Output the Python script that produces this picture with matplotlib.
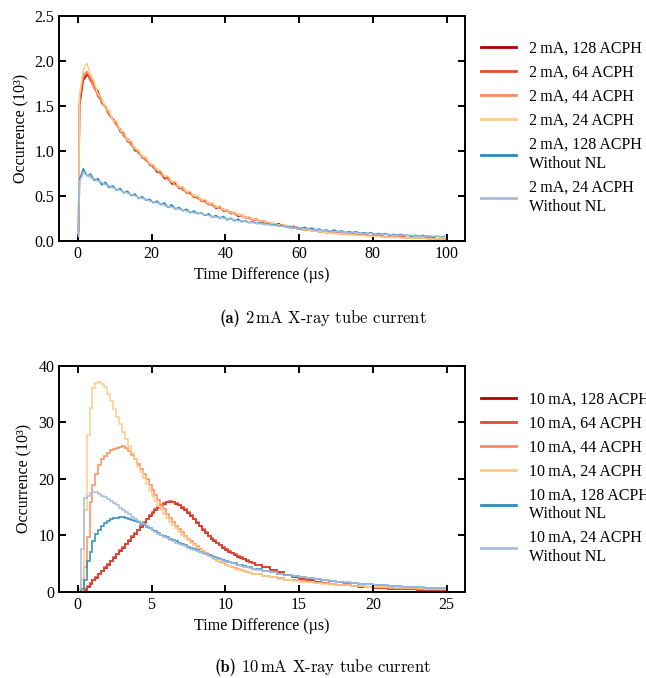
import numpy as np
import matplotlib
matplotlib.use('Agg')
import matplotlib.pyplot as plt

# ---- (a) 2 mA, 1 us bins (plotted at bin centres), values in 10^3 ----
time_a = np.concatenate([[0.2], np.arange(0.5, 100, 1.0)])

red_128_a = [0.10, 1.50, 1.78, 1.84, 1.82, 1.70, 1.66, 1.53, 1.49, 1.40, 1.35,
             1.31, 1.21, 1.20, 1.10, 1.09, 1.00, 0.99, 0.92, 0.91, 0.84,
             0.83, 0.76, 0.76, 0.69, 0.70, 0.63, 0.64, 0.58, 0.59, 0.53,
             0.54, 0.48, 0.49, 0.44, 0.45, 0.40, 0.41, 0.36, 0.38, 0.33,
             0.34, 0.30, 0.31, 0.27, 0.29, 0.25, 0.26, 0.23, 0.24, 0.21,
             0.22, 0.19, 0.20, 0.17, 0.19, 0.16, 0.17, 0.14, 0.16, 0.13,
             0.14, 0.12, 0.13, 0.11, 0.12, 0.10, 0.11, 0.09, 0.10, 0.08,
             0.09, 0.08, 0.08, 0.07, 0.08, 0.06, 0.07, 0.06, 0.06, 0.05,
             0.06, 0.05, 0.05, 0.04, 0.05, 0.04, 0.04, 0.04, 0.04, 0.03,
             0.04, 0.03, 0.03, 0.03, 0.03, 0.02, 0.03, 0.02, 0.02, 0.02]
red_64_a = [0.10, 1.55, 1.80, 1.86, 1.77, 1.71, 1.60, 1.56, 1.48, 1.40, 1.35,
            1.28, 1.24, 1.16, 1.13, 1.06, 1.03, 0.97, 0.94, 0.89, 0.86,
            0.81, 0.79, 0.74, 0.71, 0.68, 0.66, 0.62, 0.60, 0.56, 0.55,
            0.52, 0.50, 0.47, 0.46, 0.43, 0.42, 0.39, 0.38, 0.36, 0.35,
            0.33, 0.32, 0.30, 0.29, 0.27, 0.26, 0.25, 0.23, 0.23, 0.22,
            0.20, 0.20, 0.19, 0.18, 0.17, 0.17, 0.16, 0.15, 0.14, 0.14,
            0.13, 0.12, 0.12, 0.12, 0.11, 0.10, 0.10, 0.09, 0.09, 0.09,
            0.08, 0.08, 0.07, 0.07, 0.07, 0.07, 0.06, 0.06, 0.06, 0.05,
            0.05, 0.05, 0.05, 0.04, 0.04, 0.04, 0.04, 0.04, 0.04, 0.03,
            0.03, 0.03, 0.03, 0.03, 0.03, 0.03, 0.02, 0.02, 0.02, 0.02]
red_44_a = [0.12, 1.58, 1.84, 1.88, 1.81, 1.68, 1.64, 1.54, 1.49, 1.41, 1.34,
            1.29, 1.23, 1.17, 1.12, 1.07, 1.02, 0.98, 0.93, 0.90, 0.85,
            0.82, 0.78, 0.74, 0.72, 0.68, 0.65, 0.62, 0.60, 0.57, 0.54,
            0.52, 0.50, 0.47, 0.45, 0.43, 0.41, 0.40, 0.38, 0.36, 0.34,
            0.33, 0.31, 0.30, 0.29, 0.27, 0.26, 0.25, 0.24, 0.23, 0.22,
            0.21, 0.20, 0.19, 0.18, 0.17, 0.17, 0.16, 0.15, 0.15, 0.14,
            0.13, 0.13, 0.12, 0.12, 0.11, 0.11, 0.10, 0.10, 0.09, 0.09,
            0.08, 0.08, 0.08, 0.07, 0.07, 0.06, 0.06, 0.06, 0.06, 0.05,
            0.05, 0.05, 0.05, 0.04, 0.04, 0.04, 0.04, 0.04, 0.03, 0.03,
            0.03, 0.03, 0.03, 0.03, 0.03, 0.02, 0.02, 0.02, 0.02, 0.02]
red_24_a = [0.12, 1.62, 1.90, 1.97, 1.84, 1.76, 1.62, 1.59, 1.46, 1.45, 1.33,
            1.33, 1.22, 1.21, 1.11, 1.11, 1.02, 1.01, 0.93, 0.93, 0.85,
            0.85, 0.78, 0.78, 0.71, 0.72, 0.65, 0.66, 0.59, 0.60, 0.54,
            0.55, 0.49, 0.50, 0.45, 0.46, 0.41, 0.42, 0.37, 0.39, 0.34,
            0.35, 0.31, 0.32, 0.28, 0.29, 0.25, 0.27, 0.23, 0.24, 0.21,
            0.22, 0.19, 0.20, 0.17, 0.18, 0.16, 0.17, 0.14, 0.15, 0.13,
            0.14, 0.12, 0.12, 0.11, 0.11, 0.10, 0.10, 0.09, 0.09, 0.08,
            0.08, 0.08, 0.07, 0.07, 0.07, 0.06, 0.06, 0.06, 0.05, 0.05,
            0.05, 0.05, 0.04, 0.04, 0.04, 0.04, 0.04, 0.03, 0.03, 0.03,
            0.03, 0.03, 0.03, 0.03, 0.02, 0.02, 0.02, 0.02, 0.02, 0.02]
blue_128_a = [0.05, 0.68, 0.80, 0.72, 0.74, 0.67, 0.69, 0.62, 0.65, 0.59, 0.61,
              0.56, 0.58, 0.53, 0.55, 0.50, 0.52, 0.47, 0.49, 0.45, 0.46,
              0.42, 0.44, 0.40, 0.42, 0.37, 0.40, 0.35, 0.37, 0.33, 0.35,
              0.31, 0.33, 0.30, 0.31, 0.28, 0.30, 0.26, 0.28, 0.25, 0.27,
              0.23, 0.25, 0.22, 0.24, 0.21, 0.22, 0.20, 0.21, 0.19, 0.20,
              0.18, 0.19, 0.17, 0.18, 0.16, 0.17, 0.15, 0.16, 0.14, 0.15,
              0.13, 0.15, 0.13, 0.14, 0.12, 0.13, 0.11, 0.12, 0.10, 0.12,
              0.10, 0.11, 0.09, 0.10, 0.09, 0.10, 0.08, 0.09, 0.08, 0.09,
              0.07, 0.08, 0.07, 0.08, 0.06, 0.07, 0.06, 0.07, 0.06, 0.06,
              0.05, 0.06, 0.05, 0.06, 0.05, 0.05, 0.04, 0.05, 0.04, 0.05]
blue_24_a = [0.05, 0.66, 0.75, 0.73, 0.70, 0.69, 0.66, 0.65, 0.62, 0.61, 0.59,
             0.57, 0.56, 0.54, 0.53, 0.51, 0.50, 0.48, 0.47, 0.46, 0.44,
             0.43, 0.42, 0.41, 0.39, 0.38, 0.37, 0.36, 0.35, 0.34, 0.33,
             0.32, 0.31, 0.31, 0.30, 0.29, 0.28, 0.27, 0.26, 0.26, 0.25,
             0.24, 0.24, 0.23, 0.22, 0.22, 0.21, 0.20, 0.20, 0.19, 0.19,
             0.18, 0.18, 0.17, 0.17, 0.16, 0.16, 0.15, 0.15, 0.14, 0.14,
             0.14, 0.13, 0.13, 0.12, 0.12, 0.12, 0.11, 0.11, 0.11, 0.10,
             0.10, 0.10, 0.09, 0.09, 0.09, 0.09, 0.08, 0.08, 0.08, 0.08,
             0.07, 0.07, 0.07, 0.07, 0.07, 0.06, 0.06, 0.06, 0.06, 0.06,
             0.06, 0.05, 0.05, 0.05, 0.05, 0.05, 0.05, 0.05, 0.04, 0.04]

# ---- (b) 10 mA, 0.2 us bins up to 12 us, then 0.5 us bins, values in 10^3 ----
edges_b = np.concatenate([np.arange(0, 12.0, 0.2), np.arange(12.0, 25.01, 0.5)])

red_128_b = [0, 0, 0.3, 0.9, 1.4, 2.0, 2.5, 3.1, 3.6, 4.2,
             4.8, 5.4, 6.0, 6.6, 7.2, 7.8, 8.4, 9.0, 9.7, 10.3,
             10.9, 11.5, 12.2, 12.8, 13.4, 14.0, 14.5, 14.9, 15.3, 15.6,
             15.8, 15.9, 15.8, 15.6, 15.3, 14.9, 14.5, 14.0, 13.4, 12.8,
             12.2, 11.6, 11.0, 10.4, 9.9, 9.4, 9.0, 8.6, 8.2, 7.8,
             7.4, 7.1, 6.8, 6.5, 6.2, 6.0, 5.7, 5.5, 5.2, 5.0,
             4.7, 4.3, 3.85, 3.4, 3.0, 2.6, 2.3, 2.0, 1.8, 1.6,
             1.4, 1.24, 1.1, 0.97, 0.86, 0.77, 0.69, 0.61, 0.55, 0.49,
             0.44, 0.4, 0.36, 0.32, 0.29, 0.26]
red_64_b = [0, 0, 0.4, 1.0, 1.5, 2.1, 2.6, 3.2, 3.7, 4.3,
            4.9, 5.5, 6.1, 6.7, 7.3, 7.9, 8.5, 9.1, 9.8, 10.4,
            11.0, 11.6, 12.3, 12.9, 13.5, 14.1, 14.6, 15.0, 15.4, 15.7,
            15.9, 16.0, 15.9, 15.7, 15.4, 15.0, 14.6, 14.1, 13.5, 12.9,
            12.3, 11.7, 11.1, 10.5, 9.9, 9.5, 9.1, 8.7, 8.3, 7.9,
            7.5, 7.2, 6.9, 6.6, 6.3, 6.1, 5.8, 5.6, 5.3, 5.1,
            4.8, 4.4, 3.9, 3.45, 3.0, 2.65, 2.3, 2.05, 1.8, 1.6,
            1.4, 1.25, 1.1, 0.98, 0.87, 0.78, 0.7, 0.62, 0.55, 0.5,
            0.45, 0.4, 0.36, 0.33, 0.3, 0.27]
orange_44_b = [0, 0, 4.4, 9.6, 15.8, 18.8, 20.8, 22.4, 23.4, 24.0,
               24.6, 25.0, 25.3, 25.5, 25.7, 25.8, 25.4, 24.9, 24.2, 23.4,
               22.6, 21.7, 20.8, 19.9, 18.9, 18.0, 17.1, 16.2, 15.4, 14.6,
               13.8, 13.1, 12.4, 11.7, 11.1, 10.5, 9.9, 9.4, 8.9, 8.4,
               8.0, 7.6, 7.2, 6.8, 6.5, 6.1, 5.8, 5.5, 5.3, 5.0,
               4.8, 4.6, 4.4, 4.2, 4.0, 3.8, 3.6, 3.5, 3.3, 3.2,
               3.05, 2.8, 2.55, 2.35, 2.15, 2.0, 1.85, 1.7, 1.55, 1.45,
               1.35, 1.25, 1.15, 1.05, 0.95, 0.9, 0.85, 0.78, 0.72, 0.67,
               0.62, 0.58, 0.54, 0.5, 0.47, 0.44]
yellow_24_b = [0, 2.2, 14.4, 27.8, 32.6, 36.0, 36.9, 37.1, 36.8, 36.2,
               35.0, 33.8, 32.4, 31.0, 29.6, 28.3, 27.0, 25.8, 24.6, 23.5,
               22.3, 21.2, 20.1, 19.0, 17.9, 16.9, 16.0, 15.2, 14.4, 13.7,
               13.0, 12.4, 11.8, 11.2, 10.6, 10.1, 9.6, 9.1, 8.7, 8.2,
               7.8, 7.4, 7.1, 6.7, 6.4, 6.1, 5.8, 5.5, 5.2, 5.0,
               4.7, 4.5, 4.3, 4.1, 3.9, 3.8, 3.6, 3.5, 3.3, 3.2,
               3.05, 2.8, 2.55, 2.3, 2.1, 1.95, 1.8, 1.65, 1.5, 1.4,
               1.3, 1.2, 1.1, 1.0, 0.95, 0.9, 0.85, 0.8, 0.75, 0.7,
               0.65, 0.6, 0.57, 0.54, 0.5, 0.47]
blue_128_b = [0, 0.5, 2.1, 5.5, 7.1, 9.0, 10.3, 11.0, 11.6, 12.1,
              12.5, 12.8, 13.0, 13.1, 13.2, 13.2, 13.1, 12.9, 12.7, 12.5,
              12.3, 12.0, 11.8, 11.5, 11.2, 10.9, 10.7, 10.4, 10.1, 9.9,
              9.6, 9.4, 9.1, 8.9, 8.6, 8.4, 8.2, 7.9, 7.7, 7.5,
              7.3, 7.1, 6.9, 6.7, 6.5, 6.3, 6.1, 5.9, 5.8, 5.6,
              5.4, 5.3, 5.1, 5.0, 4.8, 4.7, 4.5, 4.4, 4.3, 4.1,
              4.0, 3.7, 3.45, 3.2, 2.95, 2.75, 2.55, 2.4, 2.2, 2.05,
              1.9, 1.75, 1.62, 1.5, 1.4, 1.3, 1.2, 1.1, 1.02, 0.95,
              0.88, 0.82, 0.76, 0.7, 0.65, 0.6]
blue_24_b = [0.5, 7.5, 16.5, 16.9, 17.4, 17.7, 17.6, 17.3, 17.0, 16.7,
             16.4, 16.0, 15.7, 15.3, 14.9, 14.5, 14.1, 13.7, 13.3, 12.9,
             12.6, 12.2, 11.9, 11.6, 11.3, 11.0, 10.6, 10.3, 10.0, 9.7,
             9.5, 9.2, 9.0, 8.7, 8.5, 8.3, 8.0, 7.8, 7.6, 7.4,
             7.2, 7.0, 6.8, 6.6, 6.4, 6.2, 6.0, 5.8, 5.7, 5.5,
             5.3, 5.2, 5.0, 4.9, 4.7, 4.6, 4.4, 4.3, 4.2, 4.0,
             3.9, 3.65, 3.4, 3.15, 2.95, 2.75, 2.55, 2.4, 2.22, 2.07,
             1.92, 1.78, 1.65, 1.53, 1.42, 1.32, 1.22, 1.13, 1.05, 0.97,
             0.9, 0.84, 0.78, 0.72, 0.67, 0.62]

colors = ['#b30000', '#e34a33', '#fc8d59', '#fdcc8a', '#2b8cbe', '#a6bddb']
tags = ['128 ACPH', '64 ACPH', '44 ACPH', '24 ACPH',
        '128 ACPH\nWithout NL', '24 ACPH\nWithout NL']

plt.rcParams['font.family'] = ['Liberation Serif', 'DejaVu Serif']
plt.rcParams['font.size'] = 11.5
plt.rcParams['mathtext.fontset'] = 'cm'

fig = plt.figure(figsize=(6.46, 6.78), dpi=100)
ax1 = fig.add_axes([0.0918, 0.645, 0.628, 0.332])
ax2 = fig.add_axes([0.0918, 0.1273, 0.628, 0.3333])

series_a = [red_128_a, red_64_a, red_44_a, red_24_a, blue_128_a, blue_24_a]
series_b = [red_128_b, red_64_b, orange_44_b, yellow_24_b, blue_128_b, blue_24_b]

for vals, c, t in zip(series_a, colors, tags):
    ax1.plot(time_a, vals, color=c, lw=1.1, label='2\u2009mA, ' + t)
for vals, c, t in zip(series_b, colors, tags):
    ax2.stairs(vals, edges_b, color=c, lw=1.1, label='10\u2009mA, ' + t)

ax1.set_xlim(-5, 105)
ax1.set_ylim(0, 2.5)
ax1.set_xticks([0, 20, 40, 60, 80, 100])
ax1.set_yticks([0, 0.5, 1.0, 1.5, 2.0, 2.5])
ax2.set_xlim(-1.25, 26.25)
ax2.set_ylim(0, 40)
ax2.set_xticks([0, 5, 10, 15, 20, 25])
ax2.set_yticks([0, 10, 20, 30, 40])

for ax in (ax1, ax2):
    ax.set_xlabel('Time Difference (µs)')
    ax.set_ylabel('Occurrence (10³)')
    ax.tick_params(direction='in', top=True, right=True, length=5, width=1.4)
    for s in ax.spines.values():
        s.set_linewidth(1.4)
ax1.yaxis.set_major_formatter(matplotlib.ticker.FormatStrFormatter('%.1f'))

leg_kw = dict(loc='upper left', frameon=False, borderpad=0, borderaxespad=0,
              handlelength=2.2, handletextpad=0.8, labelspacing=0.5)
l1 = fig.legend(*ax1.get_legend_handles_labels(), bbox_to_anchor=(0.745, 0.94), **leg_kw)
l2 = fig.legend(*ax2.get_legend_handles_labels(), bbox_to_anchor=(0.745, 0.423), **leg_kw)
for leg in (l1, l2):
    for h in leg.get_lines():
        h.set_linewidth(2)
    for t in leg.get_texts():
        t.set_linespacing(1.25)

# sub-captions: bold tag + regular text, centred on the figure
renderer = fig.canvas.get_renderer()
W = fig.get_figwidth() * fig.dpi
for tag, text, y in [('(a)', r'2$\,$mA X-ray tube current', 0.531),
                     ('(b)', r'10$\,$mA X-ray tube current', 0.016)]:
    t1 = fig.text(0, y, tag, family='cmb10', fontsize=12, va='center')
    t2 = fig.text(0, y, text, family='cmr10', fontsize=12, va='center')
    w1 = t1.get_window_extent(renderer).width
    w2 = t2.get_window_extent(renderer).width
    gap = 5
    x0 = (W - (w1 + gap + w2)) / 2
    t1.set_x(x0 / W)
    t2.set_x((x0 + w1 + gap) / W)

fig.savefig('out.png', dpi=100)
